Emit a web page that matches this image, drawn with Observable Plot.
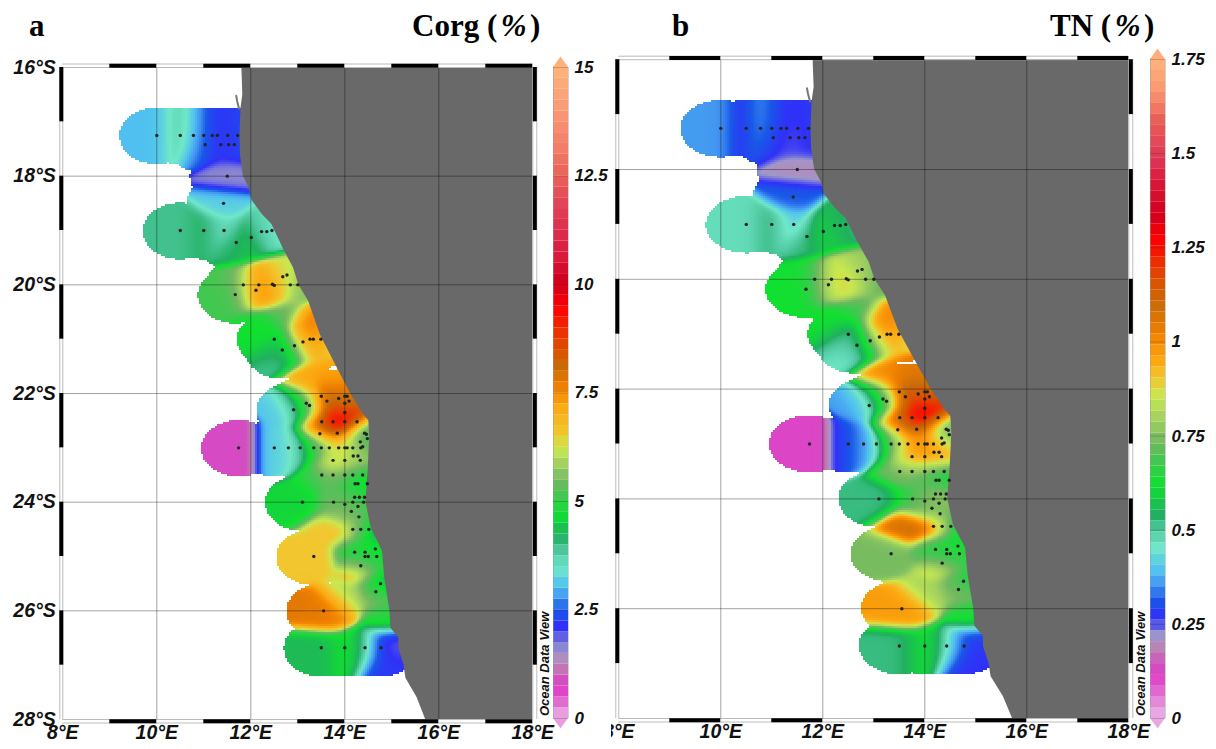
<!DOCTYPE html>
<html>
<head>
<meta charset="utf-8">
<script src="https://cdn.jsdelivr.net/npm/d3@7"></script>
<script src="https://cdn.jsdelivr.net/npm/@observablehq/plot@0.6"></script>
<style>
html,body{margin:0;padding:0;background:#fff;}
#page{position:relative;width:1216px;height:749px;overflow:hidden;background:#fff;}
#page>div,#page>svg{position:absolute;}
.ttl{font-family:"Liberation Serif",serif;font-weight:bold;font-size:31px;line-height:36px;white-space:pre;color:#000;}
.ttl i{font-weight:bold;padding:0 3.5px;}
.odv{font-family:"Liberation Sans",sans-serif;font-weight:bold;font-style:italic;font-size:13px;line-height:14px;color:#111;transform-origin:0 0;transform:rotate(-90deg);white-space:nowrap;}
</style>
</head>
<body>
<div id="page"></div>
<script>
// ---- data ----
const lonTicks = [8,10,12,14,16,18];
const latTicks = [16,18,20,22,24,26,28];
const corgTicks = [0,2.5,5,7.5,10,12.5,15];
const tnTicks = [0,0.25,0.5,0.75,1,1.25,1.5,1.75];

const stationLon = [10,10.5,10.78,11,11.18,11.29,11.51,11.72,11.03,11.36,11.53,11.65,11.5,11.42,
 10.5,11,11.43,12.23,12.34,12.45,11.69,12.01,
 11.84,12.17,12.46,12.5,12.84,13,12.11,11.67,12.68,12.77,
 12.5,12.67,12.93,13.11,13.26,13.33,13.49,
 13.5,13.62,13.87,14,14.05,14.09,14,13.18,13.25,12.91,14,13.51,13.75,14,14.26,13.47,13.84,14.42,14.46,14.48,14.33,
 11.74,12.5,12.8,13.05,13.34,13.5,13.67,13.87,14,14.05,14.17,14.34,14.38,
 14.18,14.28,13.75,14,14.33,
 13.51,13.75,14,14.17,14.38,14.22,14.28,14.48,
 14.21,14.31,14.42,13.1,13.76,14.17,14.4,14.28,14,14.14,14.3,
 14.17,14.34,14.51,14.65,14.21,14.43,14.43,14.5,14.68,13.34,14.34,14.76,14.66,13.55,
 13.5,14,14.43,14.77];
const stationLat = [17.25,17.25,17.25,17.25,17.25,17.25,17.25,17.25,17.42,17.42,17.42,17.42,18,18.5,
 19,19,19,19.02,19.02,19,19.22,19.13,
 20,20,19.99,20.01,20,20,20.1,20.18,19.85,19.82,
 21,21.2,21.12,21.05,21,21,21,
 22.05,22.14,22.09,22.05,22.05,22.14,22.18,22.18,22.22,22.3,22.35,22.52,22.52,22.52,22.52,22.74,22.73,22.73,22.75,22.83,22.89,
 23,23,23,23,23,23,23,23,23,23,23,23,22.98,
 23.15,23.15,23.23,23.23,23.23,
 23.5,23.5,23.5,23.5,23.5,23.66,23.66,23.66,
 23.91,23.91,23.91,24,24,24,24,24.08,24.04,24.17,24.27,
 24.5,24.5,24.5,24.86,24.92,24.92,25,25,25,25,25.17,25.5,25.65,26,
 26.68,26.68,26.68,26.68];
const stationCorg = [3.05,3.8,3.5,2.5,2.3,1.9,2.2,2.4,2.6,1.8,2.2,2.4,1.6,3.2,
 3.95,4.2,3.5,3.9,3.7,3.1,4.2,4.6,
 5.2,7.6,7.3,7.2,5.8,5.4,7.6,5.1,6.5,6,
 4.7,3.9,4.7,6,8.4,8.2,5.4,
 7.8,9.2,7.7,7.5,7.5,7.8,9,4.7,5.2,3.1,9.7,8.2,10,9.6,8.6,7,9.3,4.3,4.7,4.7,5.5,
 0.8,3.15,3.3,3.6,4.7,4.7,5.8,6.5,6.5,6.5,6,5.5,5.3,
 5.8,5.8,7.3,6.2,5.8,
 4.9,5.6,5.4,5.2,4.9,4.7,4.7,3.4,
 5.2,5.2,4.9,4.6,5.3,5.4,4.9,5.3,5.6,5.8,5.2,
 7.2,5.5,2.9,4.6,4.6,4.8,4.6,4.6,4.8,6.6,7.4,3.8,5.8,7.8,
 4.3,4.7,4.4,1.9];
const stationTn = [0.36,0.23,0.425,0.3,0.29,0.24,0.27,0.29,0.29,0.23,0.26,0.29,0.2,0.315,
 0.47,0.53,0.395,0.58,0.55,0.49,0.52,0.62,
 0.62,0.85,0.92,0.92,0.78,0.68,0.85,0.62,0.8,0.76,
 0.52,0.45,0.62,0.8,1.05,1.1,0.72,
 1.05,1.28,1.22,1.0,1.0,1.2,1.27,0.6,0.65,0.36,1.3,1.12,1.3,1.3,1.27,0.88,1.25,0.62,0.6,0.6,0.85,
 0.12,0.28,0.36,0.38,0.66,0.78,0.92,1.0,1.0,1.0,0.98,0.92,0.82,
 0.98,0.95,1.0,1.0,0.98,
 0.72,0.74,0.74,0.74,0.74,0.62,0.62,0.42,
 0.76,0.82,0.78,0.52,0.62,0.74,0.78,0.76,0.75,0.72,0.66,
 1.27,0.9,0.38,0.62,0.62,0.62,0.6,0.62,0.68,0.74,0.96,0.6,0.78,0.97,
 0.52,0.62,0.52,0.27];

// gridded nodes between stations: they shape the field and carry no dot
const nodeLon = [13.25,13.35,13.85,13.65,14.0,14.85,15.0,13.3,13.8,13.7,14.9,12.7,12.2];
const nodeLat = [20.7,20.85,21.8,24.5,25.75,26.9,26.6,21.75,21.7,26,26.15,20.55,20.75];
const nodeCorg = [7.5,7.8,7.4,6.6,6,2.2,1.9,7.2,7.2,7.6,4.9,5.3,4.7];
const nodeTn = [1.0,1.05,1.05,1.08,0.8,0.27,0.28,1.0,1.05,0.97,0.64,0.68,0.62];
const nodeReach = [false,false,false,false,false,false,false,false,false,false,true,false,false];

const coastLat = [16,16.5,16.76,17.25,17.62,18,18.21,18.45,18.7,18.89,19.35,19.69,20,20.3,20.92,21.53,22,22.35,22.5,22.8,23.37,24,24.47,24.9,25.4,26,26.32,26.5,26.69,27,27.24,27.6,28];
const coastLon = [11.81,11.83,11.79,11.77,11.78,11.84,11.96,12.03,12.24,12.45,12.7,12.91,13.02,13.23,13.48,13.84,14.12,14.37,14.51,14.53,14.5,14.45,14.56,14.8,14.85,14.96,14.98,15.15,15.15,15.26,15.3,15.54,15.72];
const isletLon = [11.69,11.71,11.75];
const isletLat = [16.52,16.62,16.76];

const corgStops = [0,0.35,0.65,0.9,1.2,1.5,1.8,2.1,2.5,2.75,3.05,3.45,3.85,4.2,4.7,5.1,5.45,5.85,6.2,6.55,7.2,7.6,8.1,8.5,9,9.47,9.75,10.1,10.6,11.3,12,12.5,13.2,14.2,15];
const tnStops = [0,0.066,0.11,0.145,0.18,0.217,0.235,0.27,0.315,0.35,0.39,0.455,0.5,0.54,0.62,0.68,0.73,0.79,0.855,0.9,0.95,1.02,1.1,1.165,1.217,1.27,1.31,1.34,1.42,1.47,1.535,1.59,1.63,1.685,1.75];
const stopColors = ["#ecb8e8","#e070d0","#e040c8","#d050c0","#c080b0","#a098c8","#7070e0","#3030f8","#1858e8","#4090f0","#50c0f0","#70e8c8","#50c8a0","#20b060","#10e030","#40c850","#70b860","#a0d060","#c8e850","#f0c830","#fca810","#f08000","#c86c08","#dc5000","#f02800","#ff0000","#e20010","#d00020","#d81838","#dc3050","#e34a58","#e96058","#f48068","#fb9f76","#ffb47c"];
const bandCount = 60;

// ---- shared helpers ----
const boldItalic = {fontFamily:"Liberation Sans, sans-serif",fontWeight:"bold",fontStyle:"italic",fill:"#111"};

function bands(maxValue, stops){
  const scale = d3.scaleLinear(stops, stopColors).interpolate(d3.interpolateRgb);
  const step = maxValue / bandCount;
  const lower = d3.range(bandCount).map(i => i * step);
  const colors = lower.map(v => scale(v + step / 2));
  return {lower, step, colors};
}

// distance-weighted gridding (rx, ry: reach of a station, degrees)
function grid(reaches, pxPerLon, pxPerLat){
  const rx = 0.8 * pxPerLon, ry = 0.52 * pxPerLat;
  const lx = 0.34 * pxPerLon, ly = 0.25 * pxPerLat;
  return (index, width, height, X, Y, V) => {
    const out = new Float64Array(width * height).fill(NaN);
    for (let j = 0; j < height; ++j) for (let i = 0; i < width; ++i) {
      const px = i + 0.5, py = j + 0.5;
      let inside = false, sw = 0, sv = 0;
      for (const k of index) {
        const dx = px - X[k], dy = py - Y[k];
        if (reaches[k] && (dx*dx)/(rx*rx) + (dy*dy)/(ry*ry) <= 1) inside = true;
        const w = Math.exp(-(dx*dx)/(lx*lx) - (dy*dy)/(ly*ly)) + 1e-12;
        sw += w; sv += w * V[k];
      }
      if (inside) out[j * width + i] = sv / sw;
    }
    return out;
  };
}

function panel({left, top, width, height, x0, x1, y0, y1, stationV, nodeV, stops, latAxis}){
  const rows = [
    ...stationLon.map((lon,i)=>({lon,lat:stationLat[i],v:stationV[i],reach:true})),
    ...nodeLon.map((lon,i)=>({lon,lat:nodeLat[i],v:nodeV[i],reach:nodeReach[i]}))
  ];
  const pixel = 2;
  const oddLat = d3.range(16,28,2).map(a=>({a,b:a+1}));
  const oddLon = d3.range(9,18,2).map(a=>({a,b:a+1}));
  const land = coastLat.map((lat,i)=>({lat,lon:coastLon[i]}));
  const islet = isletLat.map((lat,i)=>({lat,lon:isletLon[i]}));
  const plot = Plot.plot({
    width, height,
    marginLeft:x0, marginRight:width-x1, marginTop:y0, marginBottom:height-y1,
    style:{background:"transparent",overflow:"hidden"},
    x:{domain:[8,18]},
    y:{domain:[28,16],axis:latAxis?undefined:null},
    color:{type:"linear",domain:stops,range:stopColors,interpolate:"rgb",clamp:true},
    marks:[
      Plot.raster(rows,{x:"lon",y:"lat",fill:"v",pixelSize:pixel,imageRendering:"pixelated",
        interpolate:grid(rows.map(d=>d.reach),(x1-x0)/10/pixel,(y1-y0)/12/pixel)}),
      Plot.areaX(land,{x1:"lon",x2:()=>18,y:"lat",fill:"#696969"}),
      Plot.line(islet,{x:"lon",y:"lat",stroke:"#777",strokeWidth:2}),
      Plot.ruleX(lonTicks.slice(1,-1),{stroke:"#000",strokeOpacity:0.36,strokeWidth:1}),
      Plot.ruleY(latTicks.slice(1,-1),{stroke:"#000",strokeOpacity:0.36,strokeWidth:1}),
      Plot.dot(stationLon.map((lon,i)=>({lon,lat:stationLat[i]})),{x:"lon",y:"lat",r:1.7,fill:"#222"}),
      // ODV frame
      Plot.ruleY([16],{stroke:"#bbb",strokeWidth:1,dy:-3.5}),
      Plot.ruleY([28],{stroke:"#bbb",strokeWidth:1,dy:3.5}),
      Plot.ruleX([8],{stroke:"#bbb",strokeWidth:1,dx:-3,y1:16,y2:28}),
      Plot.ruleX([18],{stroke:"#bbb",strokeWidth:1,dx:4,y1:16,y2:28}),
      Plot.ruleY([16],{stroke:"#bbb",strokeWidth:1}),
      Plot.ruleY([28],{stroke:"#bbb",strokeWidth:1}),
      Plot.ruleX([8],{stroke:"#bbb",strokeWidth:1,y1:16,y2:28}),
      Plot.ruleX([18],{stroke:"#bbb",strokeWidth:1,y1:16,y2:28}),
      Plot.ruleY(oddLon,{y:()=>16,x1:"a",x2:"b",stroke:"#000",strokeWidth:4,dy:-1.8}),
      Plot.ruleY(oddLon,{y:()=>28,x1:"a",x2:"b",stroke:"#000",strokeWidth:4,dy:1.8}),
      Plot.ruleX(oddLat,{x:()=>8,y1:"a",y2:"b",stroke:"#000",strokeWidth:4,dx:-1.5}),
      Plot.ruleX(oddLat,{x:()=>18,y1:"a",y2:"b",stroke:"#000",strokeWidth:4,dx:2}),
      Plot.axisX({ticks:lonTicks,tickSize:0,tickPadding:6,label:null,tickFormat:d=>`${d}°E`,fontSize:19.5,...boldItalic}),
      latAxis ? Plot.axisY({ticks:latTicks,tickSize:0,tickPadding:7,label:null,tickFormat:d=>`${d}°S`,fontSize:19.5,...boldItalic}) : null
    ]
  });
  place(plot,left,top);
}

function colorbar({left, barX, barW, y0, y1, ticks, maxValue, stops, fmt}){
  const width = 64, height = 749;
  const {lower, step, colors} = bands(maxValue, stops);
  const cells = lower.map((v,i)=>({v,w:v+step,c:colors[i]}));
  const tip = maxValue * 0.016;
  const plot = Plot.plot({
    width, height,
    marginLeft:barX-left, marginRight:width-(barX-left)-barW, marginTop:y0, marginBottom:height-y1,
    style:{background:"transparent",overflow:"visible"},
    x:{domain:[0,1],axis:null},
    y:{domain:[0,maxValue]},
    marks:[
      Plot.rect(cells,{x1:()=>0,x2:()=>1,y1:"v",y2:"w",fill:"c"}),
      Plot.areaY([0,0.5,1],{x:d=>d,y1:()=>maxValue,y2:d=>d===0.5?maxValue+tip:maxValue,fill:colors[bandCount-1]}),
      Plot.areaY([0,0.5,1],{x:d=>d,y1:()=>0,y2:d=>d===0.5?-tip:0,fill:colors[0]}),
      Plot.ruleX([0,1],{stroke:"#999",strokeOpacity:0.45,strokeWidth:1}),
      Plot.ruleY(ticks,{stroke:"#000",strokeOpacity:0.18,strokeWidth:1}),
      Plot.axisY({ticks,anchor:"right",tickSize:0,tickPadding:6,label:null,tickFormat:fmt,fontSize:17,...boldItalic})
    ]
  });
  place(plot,left,0);
}

function place(node,left,top){
  node.style.left = left + "px";
  node.style.top = top + "px";
  node.style.maxWidth = "none";
  document.getElementById("page").appendChild(node);
}
function addText(cls,x,y,html){
  const d = document.createElement("div");
  d.className = cls;
  d.style.left = x + "px";
  d.style.top = y + "px";
  d.innerHTML = html;
  document.getElementById("page").appendChild(d);
}

panel({left:0,top:0,width:600,height:749,x0:62.3,x1:532.3,y0:67,y1:719,stationV:stationCorg,nodeV:nodeCorg,stops:corgStops,latAxis:true});
panel({left:611,top:0,width:605,height:749,x0:7.3,x1:517.3,y0:59.2,y1:718,stationV:stationTn,nodeV:nodeTn,stops:tnStops,latAxis:false});
colorbar({left:545,barX:553,barW:15,y0:67,y1:718,ticks:corgTicks,maxValue:15,stops:corgStops,fmt:d=>String(d)});
colorbar({left:1142,barX:1150,barW:15,y0:59,y1:718,ticks:tnTicks,maxValue:1.75,stops:tnStops,fmt:d=>String(d)});

addText("ttl",29,8,"a");
addText("ttl",412,8,'Corg (<i>%</i>)');
addText("ttl",672,8,"b");
addText("ttl",1050,8,'TN (<i>%</i>)');
addText("odv",538,716,"Ocean Data View");
addText("odv",1134,716,"Ocean Data View");
</script>
</body>
</html>
